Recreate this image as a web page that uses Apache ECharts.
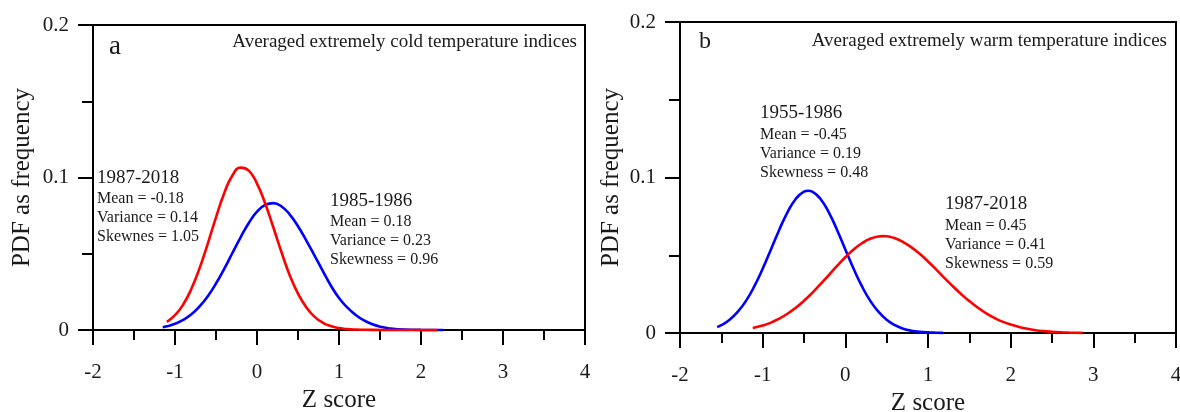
<!DOCTYPE html>
<html>
<head>
<meta charset="utf-8">
<script src="https://cdn.jsdelivr.net/npm/echarts@6/dist/echarts.min.js"></script>
<style>
html,body{margin:0;padding:0;background:#fff;}
#chart{width:1180px;height:412px;}
</style>
</head>
<body>
<div id="chart"></div>
<script>
// ---- data ----
const xTickValues = [-2, -1, 0, 1, 2, 3, 4];
const yTickLabels = ['0', '0.1', '0.2'];

// Panel a: averaged extremely cold temperature indices
const aBlueX = [-1.15,-1.1,-1.0,-0.9,-0.8,-0.7,-0.6,-0.5,-0.4,-0.3,-0.2,-0.1,0,0.1,0.2,0.3,0.4,0.5,0.6,0.7,0.8,0.9,1.0,1.1,1.2,1.3,1.4,1.5,1.6,1.8,2.0,2.27];
const aBlueY = [0.0018,0.0024,0.0041,0.0066,0.0103,0.0155,0.0222,0.0305,0.0401,0.0505,0.0608,0.0702,0.0776,0.0820,0.0832,0.0810,0.0757,0.0680,0.0588,0.0490,0.0390,0.0292,0.0210,0.0148,0.0100,0.0064,0.0039,0.0022,0.0012,0.0003,0.0001,0];
const aRedX = [-1.1,-1.0,-0.9,-0.8,-0.7,-0.6,-0.5,-0.4,-0.3,-0.2,-0.1,0,0.1,0.2,0.3,0.4,0.5,0.6,0.7,0.8,0.9,1.0,1.1,1.2,1.4,1.7,2.2];
const aRedY = [0.0054,0.0097,0.0167,0.0270,0.0406,0.0567,0.0739,0.0897,0.1013,0.1065,0.1045,0.0960,0.0830,0.0672,0.0508,0.0358,0.0238,0.0150,0.0088,0.0049,0.0026,0.0013,0.0006,0.0003,0.0001,0,0];

// Panel b: averaged extremely warm temperature indices
const bBlueX = [-1.55,-1.5,-1.4,-1.3,-1.2,-1.1,-1.0,-0.9,-0.8,-0.7,-0.6,-0.5,-0.45,-0.4,-0.3,-0.2,-0.1,0,0.1,0.2,0.3,0.4,0.5,0.6,0.7,0.8,0.9,1.0,1.1,1.18];
const bBlueY = [0.0038,0.0050,0.0085,0.0137,0.0208,0.0301,0.0413,0.0537,0.0663,0.0776,0.0862,0.0909,0.0915,0.0909,0.0862,0.0776,0.0663,0.0537,0.0413,0.0301,0.0208,0.0137,0.0085,0.0050,0.0028,0.0015,0.0008,0.0004,0.0002,0.0001];
const bRedX = [-1.12,-1.0,-0.9,-0.8,-0.7,-0.6,-0.5,-0.4,-0.3,-0.2,-0.1,0,0.1,0.2,0.3,0.4,0.45,0.5,0.6,0.7,0.8,0.9,1.0,1.1,1.2,1.3,1.4,1.5,1.6,1.7,1.8,1.9,2.0,2.1,2.2,2.3,2.4,2.5,2.6,2.7,2.87];
const bRedY = [0.0032,0.0048,0.0067,0.0093,0.0124,0.0162,0.0207,0.0258,0.0314,0.0372,0.0431,0.0487,0.0537,0.0577,0.0606,0.0621,0.0623,0.0622,0.0609,0.0585,0.0551,0.0509,0.0460,0.0408,0.0353,0.0301,0.0251,0.0205,0.0164,0.0128,0.0098,0.0073,0.0054,0.0039,0.0027,0.0018,0.0012,0.0008,0.0005,0.0003,0.0001];

const panelTitles = ['Averaged extremely cold temperature indices', 'Averaged extremely warm temperature indices'];
const panelLetters = ['a', 'b'];
const statsA1 = ['1987-2018', 'Mean = -0.18', 'Variance = 0.14', 'Skewnes = 1.05'];
const statsA2 = ['1985-1986', 'Mean = 0.18', 'Variance = 0.23', 'Skewness = 0.96'];
const statsB1 = ['1955-1986', 'Mean = -0.45', 'Variance = 0.19', 'Skewness = 0.48'];
const statsB2 = ['1987-2018', 'Mean = 0.45', 'Variance = 0.41', 'Skewness = 0.59'];

// ---- chart ----
const FONT = '"Liberation Serif", "Times New Roman", serif';
const INK = '#1a1a1a';
const zip = (xs, ys) => xs.map((x, i) => [x, ys[i]]);

function xAxisFor(gi) {
  return {
    gridIndex: gi, type: 'value', min: -2, max: 4, interval: 1,
    name: 'Z score', nameLocation: 'middle', nameGap: 58,
    nameTextStyle: { fontFamily: FONT, fontSize: 25, color: INK },
    axisLine: { onZero: false, lineStyle: { color: '#000', width: 2 } },
    axisTick: { inside: false, length: 15, lineStyle: { color: '#000', width: 2 } },
    minorTick: { show: true, splitNumber: 2, length: 10, lineStyle: { color: '#000', width: 2 } },
    axisLabel: { margin: 32, fontFamily: FONT, fontSize: 21, color: INK,
      formatter: v => xTickValues.includes(v) ? String(v) : '' },
    splitLine: { show: false }, minorSplitLine: { show: false }
  };
}
function yAxisFor(gi, gap) {
  return {
    gridIndex: gi, type: 'value', min: 0, max: 0.2, interval: 0.1,
    name: 'PDF as frequency', nameLocation: 'middle', nameGap: gap, nameRotate: 90,
    nameTextStyle: { fontFamily: FONT, fontSize: 25, color: INK },
    axisLine: { onZero: false, lineStyle: { color: '#000', width: 2 } },
    axisTick: { inside: false, length: 15, lineStyle: { color: '#000', width: 2 } },
    minorTick: { show: true, splitNumber: 2, length: 11, lineStyle: { color: '#000', width: 2 } },
    axisLabel: { margin: 24, fontFamily: FONT, fontSize: 21, color: INK,
      formatter: v => yTickLabels[Math.round(v * 10)] },
    splitLine: { show: false }, minorSplitLine: { show: false }
  };
}
function curve(xi, data, color) {
  return {
    type: 'line', xAxisIndex: xi, yAxisIndex: xi, data: data,
    smooth: 0.5, showSymbol: false, clip: false,
    lineStyle: { color: color, width: 2.6 }, itemStyle: { color: color }
  };
}
function textBlock(left, topFirst, lines, firstSize, restSize, step, firstGap) {
  const out = [];
  out.push({ type: 'text', left: left, top: topFirst,
    style: { text: lines[0], font: firstSize + 'px ' + FONT, fill: INK } });
  for (let i = 1; i < lines.length; i++) {
    out.push({ type: 'text', left: left, top: topFirst + firstGap + (i - 1) * step,
      style: { text: lines[i], font: restSize + 'px ' + FONT, fill: INK } });
  }
  return out;
}

const chart = echarts.init(document.getElementById('chart'), null, { renderer: 'canvas' });
chart.setOption({
  backgroundColor: '#fff',
  animation: false,
  grid: [
    { left: 93, top: 25, width: 492, height: 305, show: true, borderColor: '#000', borderWidth: 2,
      backgroundColor: 'transparent', containLabel: false, outerBoundsMode: 'none' },
    { left: 680, top: 22, width: 496, height: 311, show: true, borderColor: '#000', borderWidth: 2,
      backgroundColor: 'transparent', containLabel: false, outerBoundsMode: 'none' }
  ],
  xAxis: [xAxisFor(0), xAxisFor(1)],
  yAxis: [yAxisFor(0, 58), yAxisFor(1, 56)],
  series: [
    curve(0, zip(aBlueX, aBlueY), '#0000ff'),
    curve(0, zip(aRedX, aRedY), '#ff0000'),
    curve(1, zip(bBlueX, bBlueY), '#0000ff'),
    curve(1, zip(bRedX, bRedY), '#ff0000')
  ],
  graphic: [
    { type: 'text', left: 109, top: 33, style: { text: panelLetters[0], font: '27px ' + FONT, fill: INK } },
    { type: 'text', left: 699, top: 30, style: { text: panelLetters[1], font: '24px ' + FONT, fill: INK } },
    { type: 'text', right: 1180 - 577, top: 33, style: { text: panelTitles[0], font: '19px ' + FONT, fill: INK } },
    { type: 'text', right: 1180 - 1167, top: 32, style: { text: panelTitles[1], font: '19px ' + FONT, fill: INK } },
    ...textBlock(97, 169, statsA1, 19, 16, 19, 22),
    ...textBlock(330, 192, statsA2, 19, 16, 19, 22),
    ...textBlock(760, 104, statsB1, 19, 16, 19, 23),
    ...textBlock(945, 195, statsB2, 19, 16, 19, 23)
  ]
});
</script>
</body>
</html>
